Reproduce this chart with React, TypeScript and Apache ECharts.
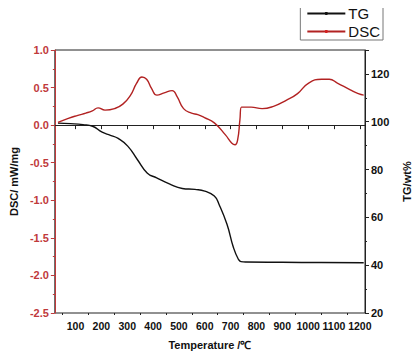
import React, { useEffect, useRef } from "react";
import * as echarts from "echarts";

const tgTemps = [32, 80, 129, 166, 203, 235, 265, 302, 339, 377, 414, 463, 513, 562, 600, 637, 655, 686, 711, 730, 740, 760, 900, 1050, 1215];
const tgValues = [99.4, 99.2, 98.8, 98.1, 95.6, 94.3, 93.0, 89.8, 84.2, 78.6, 76.5, 74.0, 72.1, 71.7, 71.0, 68.9, 65.5, 57.1, 47.4, 42.5, 41.5, 41.3, 41.2, 41.1, 41.0];

const dscTemps = [32, 72, 109, 140, 165, 187, 214, 251, 283, 313, 336, 357, 375, 394, 415, 443, 474, 493, 518, 549, 573, 599, 637, 680, 705, 717, 727, 736, 742, 779, 822, 866, 915, 959, 1002, 1052, 1082, 1113, 1163, 1194, 1215];
const dscValues = [0.036, 0.09, 0.13, 0.16, 0.19, 0.23, 0.2, 0.22, 0.28, 0.4, 0.555, 0.64, 0.61, 0.49, 0.4, 0.43, 0.46, 0.38, 0.22, 0.16, 0.14, 0.1, 0.03, -0.13, -0.24, -0.26, -0.2, 0.07, 0.24, 0.24, 0.22, 0.25, 0.33, 0.42, 0.56, 0.61, 0.61, 0.56, 0.47, 0.42, 0.4];

const xMajor = [100, 200, 300, 400, 500, 600, 700, 800, 900, 1000, 1100, 1200];
const xMinor = [50, 150, 250, 350, 450, 550, 650, 750, 850, 950, 1050, 1150];

const FONT = "'Liberation Sans', Arial, sans-serif";
const RED = "#c0393b";

export default function App() {
  const ref = useRef<HTMLDivElement>(null);
  useEffect(() => {
    const chart = echarts.init(ref.current!, null, { renderer: "svg" });
    const tgData = tgTemps.map((t, i) => [t, tgValues[i]]);
    const dscData = dscTemps.map((t, i) => [t, dscValues[i]]);
    chart.setOption({
      animation: false,
      textStyle: { fontFamily: FONT },
      grid: { left: 49, right: 48, top: 50, bottom: 48, show: true, borderColor: "#222", borderWidth: 1 },
      legend: {
        orient: "vertical",
        right: 37,
        top: 4,
        backgroundColor: "#fff",
        borderColor: "#777",
        borderWidth: 1,
        padding: [2, 3, 1, 6],
        itemGap: 3,
        itemWidth: 38,
        itemHeight: 4,
        textStyle: { fontSize: 15, color: "#111", fontFamily: FONT, padding: [0, 0, 0, -2] },
        data: ["TG", "DSC"],
      },
      xAxis: [
        {
          type: "value",
          min: 20,
          max: 1220,
          position: "bottom",
          name: "Temperature /℃",
          nameLocation: "middle",
          nameGap: 26,
          nameTextStyle: { fontSize: 11, fontWeight: "bold", color: "#111", fontFamily: FONT },
          axisLine: { lineStyle: { color: "#222", width: 1 } },
          axisTick: { customValues: xMajor, length: 4, lineStyle: { color: "#222" } },
          axisLabel: {
            customValues: xMajor,
            fontSize: 10.5,
            fontWeight: "bold",
            color: "#111",
            margin: 7,
            fontFamily: FONT,
            showMaxLabel: true,
            showMinLabel: true,
            hideOverlap: false,
            formatter: (v: number) => String(v),
          },
          splitLine: { show: false },
        },
        {
          type: "value",
          min: 20,
          max: 1220,
          position: "bottom",
          offset: 0,
          axisLine: { show: false },
          axisTick: { customValues: xMinor, length: 2, lineStyle: { color: "#222" } },
          axisLabel: { show: false },
          splitLine: { show: false },
        },
      ],
      yAxis: [
        {
          type: "value",
          min: -2.5,
          max: 1.0,
          interval: 0.5,
          position: "left",
          name: "DSC/ mW/mg",
          nameLocation: "middle",
          nameRotate: 90,
          nameGap: 29,
          nameTextStyle: { fontSize: 11, fontWeight: "bold", color: "#111", fontFamily: FONT },
          axisLine: { show: true, lineStyle: { color: RED, width: 1 } },
          axisTick: { show: true, length: 4, lineStyle: { color: RED } },
          minorTick: { show: true, splitNumber: 2, length: 2, lineStyle: { color: RED } },
          axisLabel: { fontSize: 11, fontWeight: "bold", color: RED, margin: 6, formatter: (v: number) => v.toFixed(1), fontFamily: FONT },
          splitLine: { show: false },
        },
        {
          type: "value",
          min: 20,
          max: 130,
          interval: 20,
          position: "right",
          name: "TG/wt%",
          nameLocation: "middle",
          nameRotate: 90,
          nameGap: 36,
          nameTextStyle: { fontSize: 11, fontWeight: "bold", color: "#111", fontFamily: FONT },
          axisLine: { show: true, lineStyle: { color: "#222", width: 1 } },
          axisTick: { show: true, length: 4, lineStyle: { color: "#222" } },
          minorTick: { show: true, splitNumber: 2, length: 2, lineStyle: { color: "#222" } },
          axisLabel: { fontSize: 11, fontWeight: "bold", color: "#111", margin: 6, showMaxLabel: false, fontFamily: FONT },
          splitLine: { show: false },
        },
      ],
      series: [
        {
          name: "TG",
          type: "line",
          xAxisIndex: 0,
          yAxisIndex: 1,
          data: tgData,
          smooth: true,
          symbol: "circle",
          symbolSize: 3,
          showSymbol: false,
          itemStyle: { color: "#111" },
          lineStyle: { color: "#111", width: 1.4 },
        },
        {
          name: "DSC",
          type: "line",
          xAxisIndex: 0,
          yAxisIndex: 0,
          data: dscData,
          smooth: true,
          symbol: "circle",
          symbolSize: 3,
          showSymbol: false,
          itemStyle: { color: "#d42020" },
          lineStyle: { color: "#b22222", width: 1.4 },
        },
      ],
    });
    return () => chart.dispose();
  }, []);
  return <div ref={ref} style={{ width: 420, height: 361, margin: -8 }} />;
}
